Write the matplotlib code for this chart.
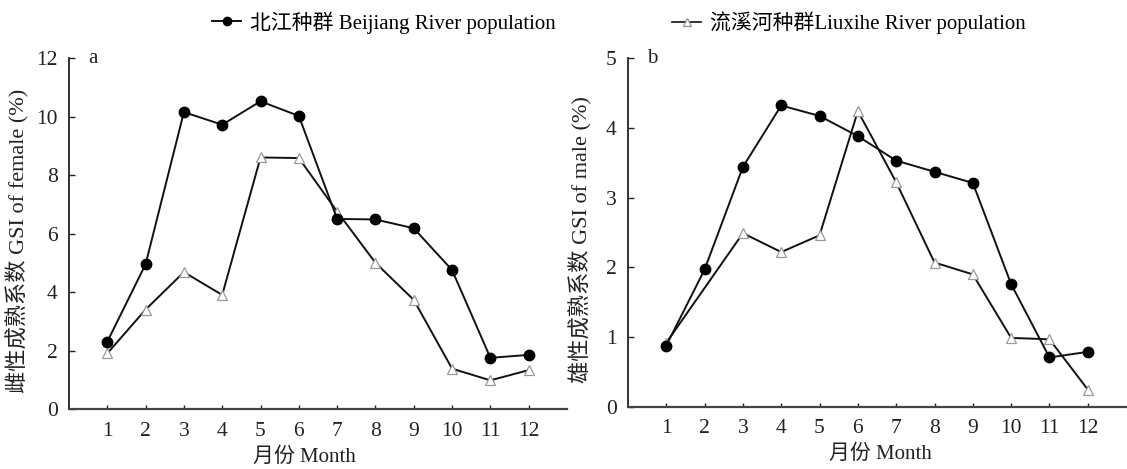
import numpy as np
import matplotlib
matplotlib.use("Agg")
import matplotlib.pyplot as plt
from matplotlib.lines import Line2D

plt.rcParams['font.family'] = ['Liberation Serif', 'Noto Sans CJK SC']

months = [1, 2, 3, 4, 5, 6, 7, 8, 9, 10, 11, 12]
month_labels = ['1', '2', '3', '4', '5', '6', '7', '8', '9', '10', '11', '12']

female_beijiang = [2.3, 4.95, 10.15, 9.72, 10.52, 10.02, 6.5, 6.48, 6.18, 4.75, 1.75, 1.85]
female_liuxihe = [1.9, 3.4, 4.68, 3.9, 8.6, 8.58, 6.75, 5.0, 3.73, 1.38, 0.98, 1.33]

male_beijiang = [0.88, 1.97, 3.44, 4.32, 4.17, 3.88, 3.53, 3.37, 3.21, 1.76, 0.71, 0.79]
male_liuxihe = [0.92, None, 2.49, 2.22, 2.46, 4.24, 3.22, 2.07, 1.9, 0.99, 0.97, 0.25]

legend_labels = ['北江种群 Beijiang River population', '流溪河种群Liuxihe River population']
ylabels = ['雌性成熟系数 GSI of female (%)', '雄性成熟系数 GSI of male (%)']
xlabel = '月份 Month'
panel_tags = ['a', 'b']
yticks_list = [[0, 2, 4, 6, 8, 10, 12], [0, 1, 2, 3, 4, 5]]
ylims = [12, 5]

fig = plt.figure(figsize=(11.27, 4.69), dpi=100)
ax1 = fig.add_axes([0.0612, 0.1279, 0.4419, 0.7484])
ax2 = fig.add_axes([0.5572, 0.1322, 0.4420, 0.7441])

line_kw = dict(color='#111111', lw=1.4)
circ_kw = dict(marker='o', markersize=7.5, markerfacecolor='black', markeredgecolor='black')
tri_kw = dict(marker='^', markersize=7.5, markerfacecolor='white', markeredgecolor='#999999', markeredgewidth=0.9)

def valid(xs, ys):
    pts = [(x, y) for x, y in zip(xs, ys) if y is not None]
    return [p[0] for p in pts], [p[1] for p in pts]

series = [(female_beijiang, female_liuxihe), (male_beijiang, male_liuxihe)]
xlab_x = [0.472, 0.507]
ylab_x = [-0.080, -0.072]
for i, ax in enumerate([ax1, ax2]):
    bj, lx = series[i]
    x2, y2 = valid(months, lx)
    ax.plot(x2, y2, **line_kw, **tri_kw, zorder=3)
    x1, y1 = valid(months, bj)
    ax.plot(x1, y1, **line_kw, **circ_kw, zorder=4)
    ax.set_xlim(0, 13)
    ax.set_ylim(0, ylims[i])
    ax.set_xticks(months)
    ax.set_xticklabels(month_labels)
    ax.set_yticks(yticks_list[i])
    for s in ['top', 'right']:
        ax.spines[s].set_visible(False)
    ax.spines['left'].set_color('#222222')
    ax.spines['bottom'].set_color('#444444')
    ax.spines['left'].set_linewidth(1.3)
    ax.spines['bottom'].set_linewidth(1.6)
    ax.tick_params(axis='x', direction='in', length=3, width=1, pad=9, labelsize=15.5, colors='#222222')
    ax.tick_params(axis='y', direction='in', length=4, width=1, pad=8, labelsize=15.5, colors='#222222')
    ax.set_ylabel(ylabels[i], fontsize=16, color='#222222')
    ax.yaxis.set_label_coords(ylab_x[i], 0.48)
    ax.set_xlabel(xlabel, fontsize=15, color='#222222')
    ax.xaxis.set_label_coords(xlab_x[i], -0.108)
    ax.text(0.038, 1.0, panel_tags[i], transform=ax.transAxes, fontsize=15, va='center', ha='left', color='#222222')

handles = [Line2D([], [], color='#111111', lw=1.4, marker='o', markersize=6, markerfacecolor='black', markeredgecolor='black'),
           Line2D([], [], color='#111111', lw=1.2, marker='^', markersize=6, markerfacecolor='white', markeredgecolor='#999999')]
leg_x = [212 / 1127, 672 / 1127]
for h, lab, lx in zip(handles, legend_labels, leg_x):
    leg = fig.legend([h], [lab], loc='center left', bbox_to_anchor=(lx, 0.952), frameon=False,
                     fontsize=15, handlelength=1.4, handletextpad=0.4, borderpad=0, borderaxespad=0)

fig.savefig('out.png', dpi=100)
